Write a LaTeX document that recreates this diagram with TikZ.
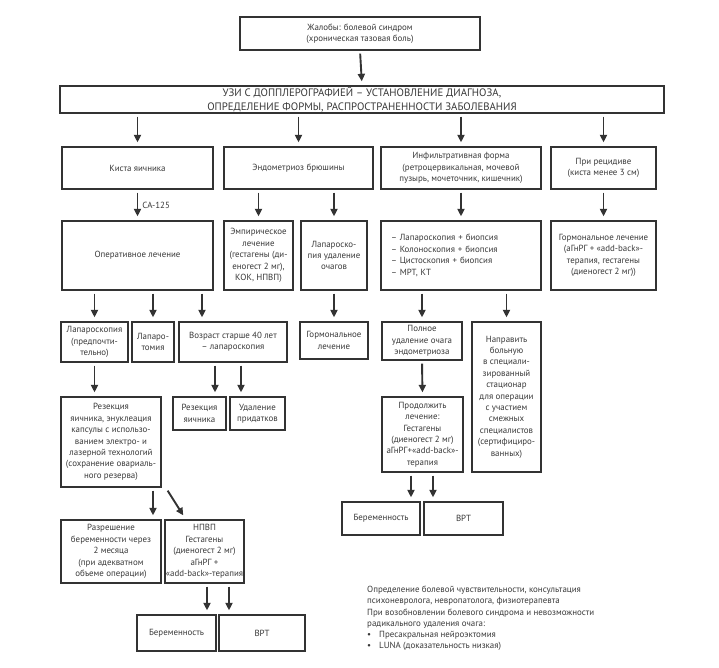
\documentclass[tikz,border=0pt]{standalone}
\usepackage{fontspec}
\setmainfont{PT Sans}
\usetikzlibrary{arrows.meta,positioning}

\begin{document}
\begin{tikzpicture}[x=1pt, y=-1pt,
    box/.style={rectangle, draw=black!80, line width=1.3pt, text=black!78, align=center, inner sep=1pt, font=\fontsize{8.9}{11.4}\selectfont},
    head/.style={box, font=\fontsize{10.8}{13.6}\selectfont},
    note/.style={text=black!78, align=left, inner sep=0pt, font=\fontsize{8.9}{11.2}\selectfont},
    arrow/.style={-{Triangle[length=7.5pt,width=7pt]}, line width=1.9pt, draw=black!80, shorten <=3pt, shorten >=4pt}
]
\useasboundingbox (0,0) rectangle (719,667);

% Complaint and ultrasound
\node[box, minimum width=240pt, minimum height=33pt] (complaint) at (360,33.5) {Жалобы: болевой синдром\\(хроническая тазовая боль)};
\node[head, minimum width=604pt, minimum height=27pt] (uzi) at (362,99.5) {УЗИ С ДОППЛЕРОГРАФИЕЙ – УСТАНОВЛЕНИЕ ДИАГНОЗА,\\ОПРЕДЕЛЕНИЕ ФОРМЫ, РАСПРОСТРАНЕННОСТИ ЗАБОЛЕВАНИЯ};

% Forms
\node[box, minimum width=151pt, minimum height=42pt] (kista) at (137.5,168) {Киста яичника};
\node[box, minimum width=149pt, minimum height=42pt] (endo) at (298.5,168) {Эндометриоз брюшины};
\node[box, minimum width=160pt, minimum height=42pt] (infil) at (461,168) {Инфильтративная форма\\(ретроцервикальная, мочевой\\пузырь, мочеточник, кишечник)};
\node[box, minimum width=105pt, minimum height=42pt] (recid) at (603.5,168) {При рецидиве\\(киста менее 3 см)};

% Second row
\node[box, minimum width=151pt, minimum height=69pt] (oper) at (137.5,255.5) {Оперативное лечение};
\node[box, minimum width=69pt, minimum height=69pt] (empir) at (258.5,255.5) {Эмпирическое\\лечение\\(гестагены (ди-\\еногест 2 мг),\\КОК, НПВП)};
\node[box, minimum width=66pt, minimum height=69pt] (laprem) at (334,255.5) {Лапароско-\\пия удаление\\очагов};
\node[box, minimum height=69pt, text width=140pt, inner xsep=10pt, align=left] (diag) at (461,255.5) {– Лапароскопия + биопсия\\– Колоноскопия + биопсия\\– Цистоскопия + биопсия\\– МРТ, КТ};
\node[box, minimum width=105pt, minimum height=69pt] (hormon) at (603.5,255.5) {Гормональное лечение\\(аГнРГ + «add-back»-\\терапия, гестагены\\(диеногест 2 мг))};

% Third row
\node[box, minimum width=67pt, minimum height=40pt] (lapar) at (94.5,342) {Лапароскопия\\(предпочти-\\тельно)};
\node[box, minimum width=42pt, minimum height=40pt] (lapto) at (153,342) {Лапаро-\\томия};
\node[box, minimum width=108pt, minimum height=40pt] (age) at (233,342) {Возраст старше 40 лет\\– лапароскопия};
\node[box, minimum width=68pt, minimum height=37pt] (hormsm) at (334,340.5) {Гормональное\\лечение};
\node[box, minimum width=80pt, minimum height=38pt] (full) at (422,341) {Полное\\удаление очага\\эндометриоза};
\node[box, minimum width=69pt, minimum height=150pt] (napr) at (506.5,397) {Направить\\больную\\в специали-\\зированный\\стационар\\для операции\\с участием\\смежных\\специалистов\\(сертифициро-\\ванных)};
\node[box, minimum width=81pt, minimum height=75pt] (prod) at (422.5,434.5) {Продолжить\\лечение:\\Гестагены\\(диеногест 2 мг)\\аГнРГ+«add-back»-\\терапия};

% Ovarian branch
\node[box, minimum width=100pt, minimum height=90pt] (resbig) at (111,442) {Резекция\\яичника, энуклеация\\капсулы с использо-\\ванием электро- и\\лазерной технологий\\(сохранение овариаль-\\ного резерва)};
\node[box, minimum width=53pt, minimum height=33pt] (ressm) at (199.5,413.5) {Резекция\\яичника};
\node[box, minimum width=55pt, minimum height=33pt] (udal) at (257.5,413.5) {Удаление\\придатков};
\node[box, minimum width=100pt, minimum height=63pt] (razr) at (111,551.5) {Разрешение\\беременности через\\2 месяца\\(при адекватном\\объеме операции)};
\node[box, minimum width=73pt, minimum height=63pt] (npvp) at (204.5,551.5) {НПВП\\Гестагены\\(диеногест 2 мг)\\аГнРГ +\\«add-back»-терапия};

% Outcomes
\node[box, minimum width=79pt, minimum height=36pt] (berleft) at (176.5,633) {Беременность};
\node[box, minimum width=86pt, minimum height=36pt] (vrtleft) at (262,633) {ВРТ};
\node[box, minimum width=78pt, minimum height=33pt] (bermid) at (381,518.5) {Беременность};
\node[box, minimum width=79pt, minimum height=33pt] (vrtmid) at (463.5,518.5) {ВРТ};

% Note
\node[note, anchor=north west] (pain) at (367,586) {Определение болевой чувствительности, консультация\\психоневролога, невропатолога, физиотерапевта\\При возобновлении болевого синдрома и невозможности\\радикального удаления очага:\\\textbullet\hspace{8pt}Пресакральная нейроэктомия\\\textbullet\hspace{8pt}LUNA (доказательность низкая)};

% Arrows
\draw[arrow] (complaint.south) -- (uzi.north);
\draw[arrow] (uzi.south -| kista) -- (kista.north);
\draw[arrow] (uzi.south -| endo) -- (endo.north);
\draw[arrow] (uzi.south -| infil) -- (infil.north);
\draw[arrow] (uzi.south -| recid) -- (recid.north);

\draw[arrow] (kista.south) -- node[right=4pt, note] {CA-125} (oper.north);
\draw[arrow] (endo.south -| empir) -- (empir.north);
\draw[arrow] (endo.south -| laprem) -- (laprem.north);
\draw[arrow] (infil.south) -- (diag.north);
\draw[arrow] (recid.south) -- (hormon.north);

\coordinate (age-in) at ([xshift=-31pt]age.north);
\draw[arrow] (oper.south -| lapar) -- (lapar.north);
\draw[arrow] (oper.south -| lapto) -- (lapto.north);
\draw[arrow] (oper.south -| age-in) -- (age-in);
\draw[arrow] (laprem.south) -- (hormsm.north);
\draw[arrow] (diag.south -| full) -- (full.north);
\draw[arrow] (diag.south -| napr) -- (napr.north);
\draw[arrow] (full.south) -- (prod.north);

\coordinate (age-a) at ([xshift=-18pt]age.south);
\coordinate (age-b) at ([xshift=8pt]age.south);
\draw[arrow] (lapar.south) -- (lapar.south |- resbig.north);
\draw[arrow] (age-a) -- (age-a |- ressm.north);
\draw[arrow] (age-b) -- (age-b |- udal.north);

\coordinate (res-a) at ([xshift=42pt]resbig.south);
\draw[arrow] (res-a) -- (res-a |- razr.north);
\draw[arrow, shorten <=0pt, shorten >=0pt] ([xshift=6pt,yshift=-3pt]resbig.south east) -- ([xshift=19pt,yshift=4pt]npvp.north west);

\coordinate (npvp-a) at ([xshift=2.5pt]npvp.south);
\coordinate (npvp-b) at ([xshift=24.5pt]npvp.south);
\draw[arrow] (npvp-a) -- (npvp-a |- berleft.north);
\draw[arrow] (npvp-b) -- (npvp-b |- vrtleft.north);

\coordinate (prod-a) at ([xshift=-11.5pt]prod.south);
\coordinate (prod-b) at ([xshift=10.5pt]prod.south);
\draw[arrow] (prod-a) -- (prod-a |- bermid.north);
\draw[arrow] (prod-b) -- (prod-b |- vrtmid.north);

\end{tikzpicture}
\end{document}
